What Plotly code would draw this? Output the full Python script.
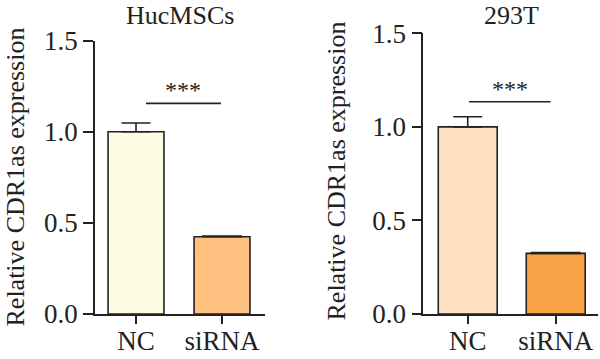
import plotly.graph_objects as go

categories = ["NC", "siRNA"]
huc_values = [1.0, 0.424]
huc_errors = [0.048, 0.004]
t293_values = [1.0, 0.324]
t293_errors = [0.054, 0.004]
huc_colors = ["#FEFBE3", "#FDC07F"]
t293_colors = ["#FEDFC2", "#F8A145"]
tick_vals = [0.0, 0.5, 1.0, 1.5]
tick_text = ["0.0", "0.5", "1.0", "1.5"]
titles = ["HucMSCs", "293T"]
y_title = "Relative CDR1as expression"
sig_label = "***"
huc_sig = {"x0": 0.116, "x1": 0.988, "y": 1.156}
t293_sig = {"x0": 0.015, "x1": 0.94, "y": 1.134}

W, H = 600, 359
FONT = "Liberation Serif"

def px(x):
    return x / W

def py(y):
    return 1 - y / H

fig = go.Figure()

cap_widths = {("x", 0): 14.5, ("x", 1): 20, ("x2", 0): 14.5, ("x2", 1): 25}
for xa, ya, vals, errs, cols, bw in [
    ("x", "y", huc_values, huc_errors, huc_colors, 0.65),
    ("x2", "y2", t293_values, t293_errors, t293_colors, 0.67),
]:
    for i, cat in enumerate(categories):
        fig.add_trace(go.Bar(
            x=[cat], y=[vals[i]], xaxis=xa, yaxis=ya, width=bw,
            marker=dict(color=cols[i], line=dict(color="#222222", width=1.6)),
            error_y=dict(type="data", array=[errs[i]], arrayminus=[0], symmetric=False,
                         color="#222222", thickness=1.6, width=cap_widths[(xa, i)]),
            showlegend=False, hoverinfo="skip",
        ))

axis_common = dict(showline=True, linecolor="#222222", linewidth=1.6, ticks="outside",
                   tickcolor="#222222", tickwidth=1.6, showgrid=False, zeroline=False,
                   automargin=False,
                   tickfont=dict(family=FONT, size=27, color="#222222"))

fig.update_layout(
    width=W, height=H, margin=dict(l=0, r=0, t=0, b=0),
    paper_bgcolor="white", plot_bgcolor="white", barmode="overlay",
    xaxis=dict(domain=[px(95), px(265)], anchor="y", range=[-0.477, 1.5],
               type="category", ticklen=8, ticklabelstandoff=-6, **axis_common),
    yaxis=dict(domain=[py(314), py(40.7)], anchor="x", range=[0, 1.5],
               tickvals=tick_vals, ticktext=tick_text, ticklen=10, **axis_common),
    xaxis2=dict(domain=[px(423.3), px(597.7)], anchor="y2", range=[-0.505, 1.477],
                type="category", ticklen=8, ticklabelstandoff=-6, **axis_common),
    yaxis2=dict(domain=[py(314), py(33.3)], anchor="x2", range=[0, 1.5],
                tickvals=tick_vals, ticktext=tick_text, ticklen=10, **axis_common),
)

# significance lines
for xr, yr, s in [("x", "y", huc_sig), ("x2", "y2", t293_sig)]:
    fig.add_shape(type="line", xref=xr, yref=yr, x0=s["x0"], x1=s["x1"], y0=s["y"], y1=s["y"],
                  line=dict(color="#222222", width=1.6))
    fig.add_annotation(xref=xr, yref=yr, x=(s["x0"] + s["x1"]) / 2, y=s["y"], text=sig_label,
                       showarrow=False, yanchor="bottom", yshift=-2,
                       font=dict(family=FONT, size=24, color="#222222"))

# panel titles
for xpix, t in [(180, titles[0]), (511.7, titles[1])]:
    fig.add_annotation(xref="paper", yref="paper", x=px(xpix), y=py(15), text=t,
                       showarrow=False, xanchor="center", yanchor="middle",
                       font=dict(family=FONT, size=26, color="#222222"))

# y-axis titles
for xpix, ypix in [(15, 177.5), (336, 171.5)]:
    fig.add_annotation(xref="paper", yref="paper", x=px(xpix), y=py(ypix), text=y_title,
                       showarrow=False, textangle=-90, xanchor="center", yanchor="middle",
                       font=dict(family=FONT, size=26, color="#222222"))

fig.write_html("out.html", config={"displayModeBar": False},
               post_script="document.body.style.margin='0';")
